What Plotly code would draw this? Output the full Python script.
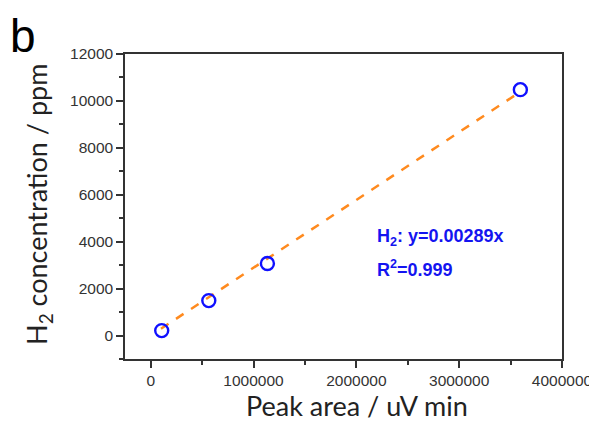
import plotly.graph_objects as go

peak_area = [107000, 565000, 1135000, 3595000]
h2_ppm = [210, 1490, 3070, 10480]
slope = 0.00289
fit_x = [100000, 3600000]
fit_y = [slope * v for v in fit_x]
x_ticks = [0, 1000000, 2000000, 3000000, 4000000]
y_ticks = [0, 2000, 4000, 6000, 8000, 10000, 12000]

fig = go.Figure()
fig.add_trace(go.Scatter(x=fit_x, y=fit_y, mode="lines",
                         line=dict(color="#FF8A1E", width=2.5, dash="dash"),
                         showlegend=False))
fig.add_trace(go.Scatter(x=peak_area, y=h2_ppm, mode="markers",
                         marker=dict(symbol="circle-open", size=13, color="#1010FF",
                                     line=dict(width=2.4, color="#1010FF")),
                         showlegend=False))

axis_common = dict(showline=True, linecolor="#333", linewidth=1.5, mirror=True,
                   ticks="outside", ticklen=7, tickwidth=1.5, tickcolor="#333",
                   showgrid=False, zeroline=False,
                   tickfont=dict(family="Liberation Sans, Arial", size=15.5, color="#333"))

fig.update_xaxes(range=[-250000, 4000000], tickvals=x_ticks,
                 ticktext=[str(v) for v in x_ticks],
                 minor=dict(ticks="outside", ticklen=4, tickwidth=1.5, tickcolor="#333",
                            dtick=500000, tick0=0),
                 **axis_common)
fig.update_yaxes(range=[-1000, 12000], tickvals=y_ticks,
                 ticktext=[str(v) for v in y_ticks],
                 minor=dict(ticks="outside", ticklen=4, tickwidth=1.5, tickcolor="#333",
                            dtick=1000, tick0=0),
                 **axis_common)

title_font = dict(family="Lato, Open Sans", size=27, color="#222")
fig.add_annotation(xref="paper", yref="paper", x=0.532, y=0, xanchor="center",
                   yanchor="middle", yshift=-46, showarrow=False,
                   text="Peak area / uV min", font=title_font)
fig.add_annotation(xref="paper", yref="paper", x=0, y=0.505, xanchor="center",
                   yanchor="middle", xshift=-86, showarrow=False, textangle=-90,
                   text="H<sub>2</sub> concentration / ppm", font=title_font)

fig.add_annotation(xref="paper", yref="paper", x=0.0, y=1.0, xanchor="left", yanchor="top",
                   text="b", showarrow=False, xshift=-117, yshift=46,
                   font=dict(family="Liberation Sans, Arial", size=46, color="black"))
fig.add_annotation(x=2180000, y=4170, xanchor="left", yanchor="middle",
                   text="<b>H<sub>2</sub>: y=0.00289x</b>", showarrow=False,
                   font=dict(family="Liberation Sans, Arial", size=18, color="#1414F0"))
fig.add_annotation(x=2180000, y=2850, xanchor="left", yanchor="middle",
                   text="<b>R<sup>2</sup>=0.999</b>", showarrow=False,
                   font=dict(family="Liberation Sans, Arial", size=18, color="#1414F0"))

fig.update_layout(width=597, height=421, margin=dict(l=117, r=43, t=46, b=70),
                  plot_bgcolor="white", paper_bgcolor="white")
fig.write_html("out.html")
